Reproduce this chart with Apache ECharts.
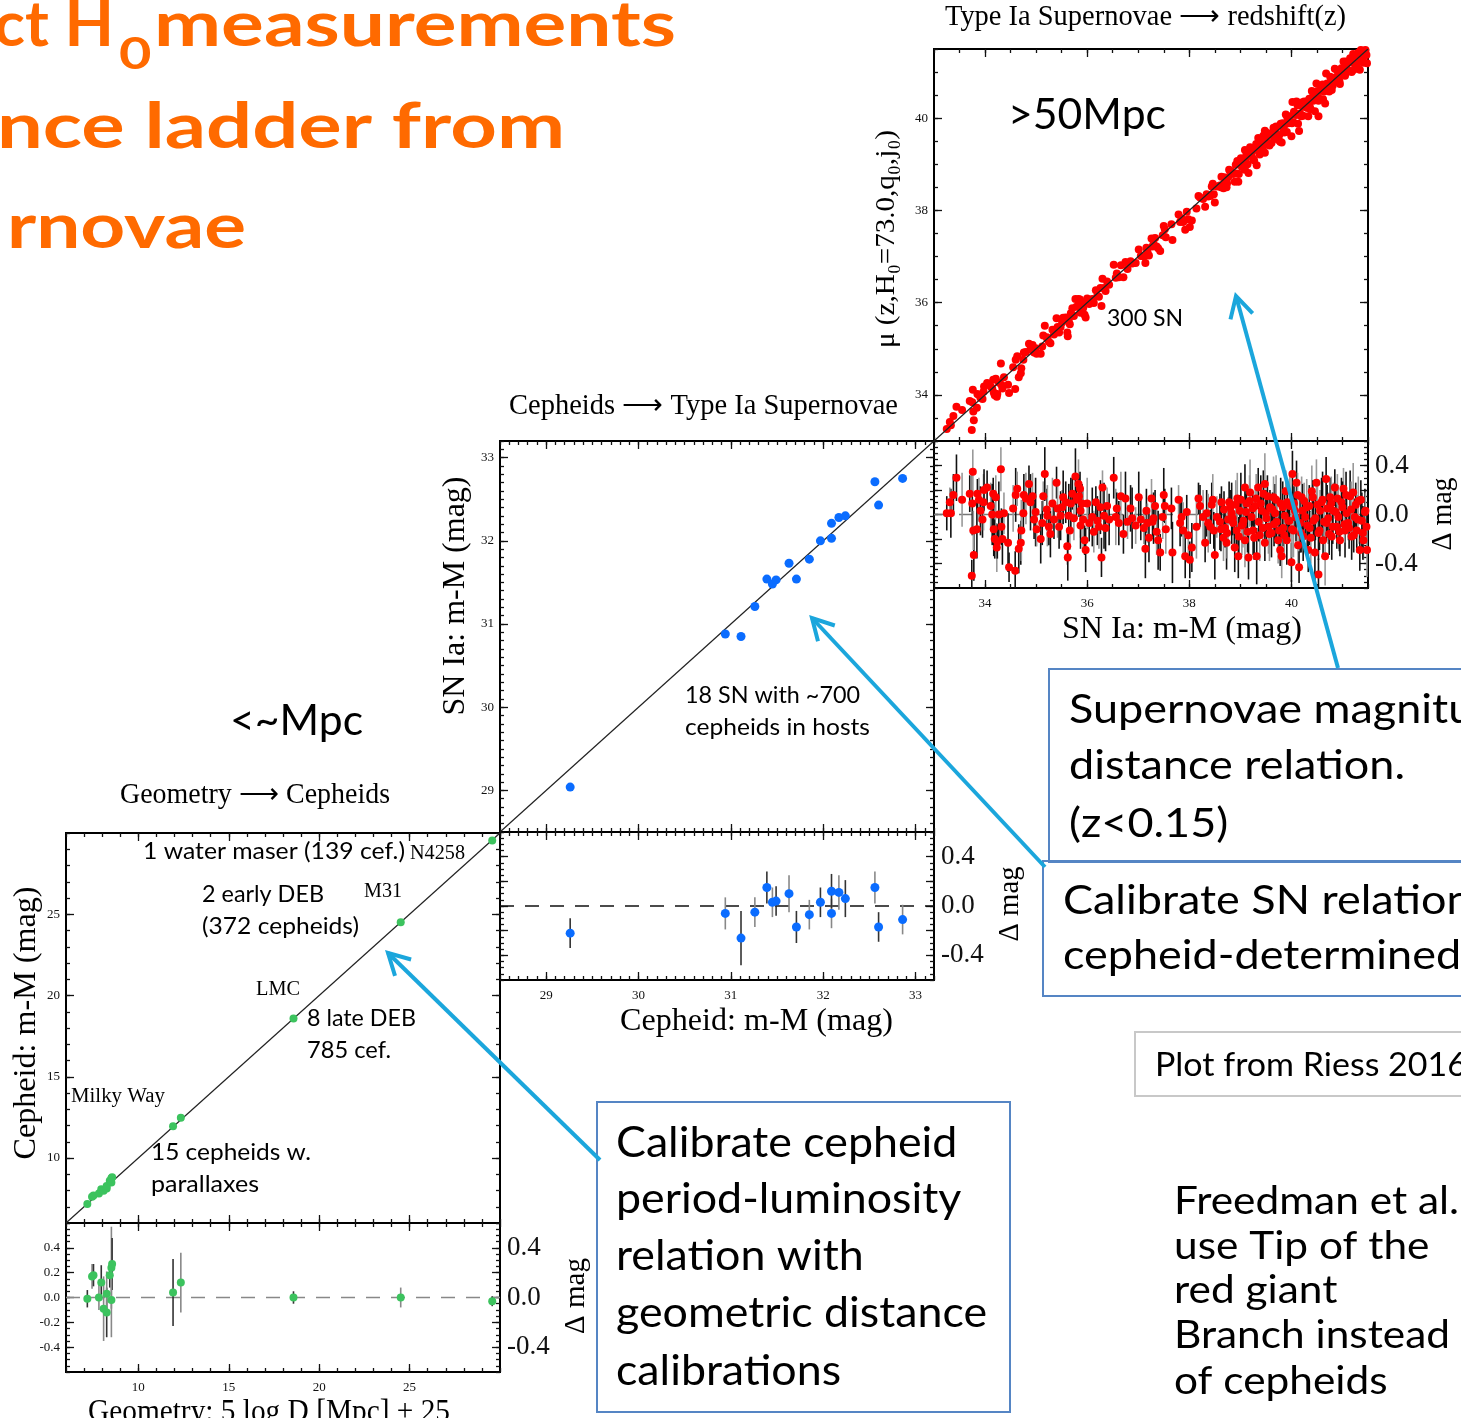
<!DOCTYPE html>
<html>
<head>
<meta charset="utf-8">
<title>Distance ladder</title>
<script src="https://cdn.jsdelivr.net/npm/echarts@6/dist/echarts.min.js"></script>
<style>
  html, body { margin: 0; padding: 0; background: #fff; overflow: hidden; }
  #chart { width: 1461px; height: 1418px; }
</style>
</head>
<body>
<div id="chart"></div>
<script>
// ---------- Rung 1: geometric distances vs Cepheid distances ----------
const geoMu    = [7.18, 7.44, 7.52, 7.82, 7.95, 8.08, 8.25, 8.25, 8.42, 8.51, 8.55, 8.51, 11.92, 12.35, 18.58, 24.51, 29.57];
const geoResid = [-0.01, 0.17, 0.18, 0.00, 0.12, -0.09, -0.12, 0.03, 0.18, 0.24, 0.27, -0.02, 0.04, 0.12, 0.00, 0.00, -0.03];
const geoErr   = [0.07, 0.10, 0.09, 0.10, 0.14, 0.26, 0.20, 0.18, 0.10, 0.33, 0.21, 0.30, 0.27, 0.24, 0.05, 0.08, 0.04];

// ---------- Rung 2: Cepheid distances vs SN Ia distances (18 hosts) ----------
const cephMu    = [29.26, 30.94, 31.11, 31.26, 31.39, 31.45, 31.49, 31.63, 31.71, 31.85, 31.97, 32.09, 32.09, 32.17, 32.24, 32.56, 32.60, 32.86];
const cephResid = [-0.22, -0.06, -0.26, -0.05, 0.15, 0.03, 0.04, 0.10, -0.17, -0.07, 0.03, -0.06, 0.12, 0.11, 0.06, 0.15, -0.17, -0.11];
const cephErr   = [0.12, 0.13, 0.22, 0.12, 0.13, 0.12, 0.12, 0.15, 0.13, 0.12, 0.12, 0.12, 0.14, 0.14, 0.15, 0.13, 0.12, 0.12];

// ---------- Rung 3: SN Ia distances vs redshift distances ----------
const snMu = [
  33.25,33.33,33.31,33.38,33.44,33.55,33.70,33.75,33.76,33.74,
  33.78,33.77,33.84,33.85,33.88,33.91,33.95,33.97,33.98,34.04,
  34.11,34.14,34.16,34.21,34.17,34.19,34.23,34.24,34.27,34.31,
  34.32,34.34,34.37,34.45,34.47,34.55,34.59,34.60,34.63,34.66,
  34.70,34.71,34.75,34.76,34.80,34.86,34.89,34.93,34.96,34.99,
  35.01,35.09,35.12,35.14,35.17,35.21,35.22,35.25,35.28,35.32,
  35.35,35.40,35.42,35.45,35.48,35.51,35.53,35.58,35.61,35.62,
  35.64,35.66,35.68,35.71,35.74,35.77,35.79,35.83,35.84,35.86,
  35.87,35.87,35.90,35.92,35.95,35.97,36.00,36.04,36.10,36.13,
  36.17,36.20,36.23,36.26,36.28,36.30,36.33,36.36,36.39,36.43,
  36.52,36.56,36.58,36.62,36.66,36.71,36.75,36.79,36.85,36.88,
  36.95,37.01,37.05,37.11,37.14,37.16,37.18,37.21,37.28,
  37.26,37.30,37.33,37.36,37.39,37.43,37.48,37.50,37.52,37.54,
  37.65,37.67,37.79,37.82,37.85,37.88,37.92,37.95,37.98,38.01,
  38.05,38.14,38.18,38.21,38.27,38.31,38.34,38.37,38.41,38.44,
  38.46,38.48,38.50,38.54,38.60,38.63,38.67,38.70,38.73,38.76,
  38.80,38.83,38.86,38.89,38.93,38.94,38.96,38.99,39.03,39.06,
  39.09,39.09,39.12,39.16,39.19,39.22,39.25,39.29,39.32,39.35,
  39.38,39.42,39.45,39.48,39.48,39.51,39.55,39.58,39.61,39.65,
  39.68,39.71,39.74,39.78,39.79,39.81,39.84,39.87,39.89,39.91,
  39.94,39.97,40.00,40.02,40.04,40.07,40.10,40.13,40.15,40.17,
  40.20,40.23,40.27,40.30,40.33,40.36,40.40,40.43,40.46,40.49,
  40.53,40.53,40.56,40.59,40.62,40.66,40.68,40.69,40.72,40.76,
  40.79,40.82,40.85,40.89,40.92,40.95,40.98,41.02,41.05,41.08,
  41.11,41.15,41.18,41.21,41.24,41.28,41.31,41.34,41.38,41.41,
  41.44,41.47,41.48,
  38.62,38.68,38.74,38.78,38.85,38.91,38.97,39.01,39.05,39.11,
  39.14,39.18,39.24,39.27,39.31,39.36,39.40,39.44,39.50,39.53,
  39.57,39.63,39.66,39.70,39.76,39.83,39.86,39.92,39.96,40.01,
  40.05,40.09,40.12,40.19,40.22,40.25,40.31,40.35,40.38,40.42,
  40.47,40.51,40.55,40.61,40.64,40.70,40.74,40.78,40.81,40.87,
  40.90,40.94,41.00,41.04,41.07,41.13,41.17,41.22,41.26,41.30,
  41.36,41.40,41.45
];
const snResid = [
  0.01,0.01,0.10,0.16,0.30,0.12,0.17,0.09,0.35,-0.50,
  -0.33,-0.13,-0.12,0.17,0.12,0.03,-0.04,0.10,0.20,0.22,
  0.07,0.00,0.17,0.14,-0.12,-0.20,-0.27,-0.22,0.00,0.37,
  -0.10,-0.20,0.01,-0.23,-0.43,0.05,-0.46,0.16,0.21,-0.28,
  -0.23,-0.13,0.01,0.16,0.13,0.25,0.10,0.15,-0.04,0.02,
  -0.12,-0.20,-0.07,0.15,0.33,0.04,-0.01,-0.10,-0.16,0.09,
  -0.04,0.26,0.05,-0.10,-0.01,0.06,0.14,0.10,-0.26,-0.35,
  -0.01,-0.13,0.09,0.17,-0.03,0.31,0.12,0.25,0.15,0.21,
  0.03,-0.09,0.09,-0.04,-0.21,-0.29,0.09,-0.07,-0.02,-0.14,
  0.10,-0.05,-0.10,0.06,-0.35,0.22,-0.01,-0.11,0.07,-0.04,
  0.30,-0.02,0.05,-0.07,0.15,-0.16,0.13,-0.06,0.05,-0.03,
  -0.09,0.14,-0.04,-0.11,-0.28,0.03,-0.07,-0.19,-0.06,
  0.13,-0.03,0.07,-0.14,-0.21,-0.31,-0.02,0.16,0.07,-0.12,
  0.05,-0.31,0.12,-0.07,-0.02,-0.13,-0.34,0.02,-0.17,-0.37,
  -0.27,-0.10,0.13,0.07,-0.02,-0.23,0.01,-0.07,-0.10,0.08,
  0.12,-0.13,-0.33,-0.02,-0.06,0.10,-0.19,-0.11,-0.23,-0.04,
  0.06,0.01,-0.07,-0.27,-0.13,0.13,-0.34,0.03,-0.09,-0.05,
  0.22,-0.21,0.09,-0.35,0.18,-0.02,-0.13,0.07,-0.34,0.22,
  -0.17,0.03,0.17,0.25,-0.23,-0.03,-0.10,0.06,-0.15,0.14,
  0.01,-0.06,-0.21,-0.29,0.09,-0.34,-0.11,-0.01,0.19,-0.21,
  -0.05,0.07,-0.39,0.33,-0.13,0.03,0.26,-0.25,-0.43,-0.07,
  0.14,-0.18,-0.02,0.06,-0.29,-0.11,0.19,-0.05,-0.31,0.26,
  -0.49,-0.15,0.03,0.10,-0.21,-0.34,0.29,-0.07,-0.03,0.14,
  -0.18,0.03,0.22,-0.10,-0.02,-0.21,0.10,0.21,-0.13,0.01,
  -0.07,0.15,-0.18,0.18,-0.02,-0.13,0.11,-0.29,-0.05,-0.21,
  0.02,-0.10,-0.29,
  -0.12,0.04,-0.15,0.10,-0.03,0.08,-0.18,0.12,-0.08,0.02,
  -0.14,0.11,0.05,-0.19,0.13,-0.06,0.09,-0.11,0.01,0.15,
  -0.16,0.04,-0.08,0.12,-0.13,0.06,-0.17,0.10,-0.05,-0.12,
  0.09,-0.02,0.16,-0.15,0.03,0.11,-0.09,0.07,-0.19,0.14,
  -0.03,0.08,-0.13,0.12,-0.06,0.05,-0.16,0.09,-0.10,0.02,
  0.13,-0.14,0.06,-0.08,0.16,-0.11,0.04,-0.17,0.08,-0.04,
  0.12,-0.15,0.03
];
const snErr = [
  0.14,0.20,0.12,0.17,0.19,0.22,0.15,0.26,0.18,0.13,
  0.21,0.16,0.24,0.12,0.18,0.20,0.15,0.23,0.17,0.14,
  0.19,0.25,0.13,0.18,0.22,0.16,0.20,0.14,0.27,0.18,
  0.15,0.21,0.17,0.24,0.12,0.19,0.16,0.22,0.14,0.20,
  0.18,0.25,0.13,0.17,0.21,0.15,0.23,0.19,0.16,0.28,
  0.14,0.20,0.18,0.12,0.22,0.17,0.25,0.15,0.19,0.21,
  0.16,0.13,0.24,0.18,0.20,0.14,0.22,0.17,0.15,0.19,
  0.26,0.16,0.21,0.13,0.18,0.23,0.15,0.20,0.17,0.14,
  0.22,0.19,0.16,0.25,0.12,0.18,0.21,0.15,0.24,0.17,
  0.13,0.20,0.18,0.22,0.16,0.14,0.27,0.19,0.15,0.21,
  0.17,0.23,0.13,0.18,0.20,0.16,0.22,0.14,0.19,0.25,
  0.15,0.21,0.17,0.13,0.24,0.18,0.16,0.20,0.14,
  0.16,0.21,0.13,0.19,0.24,0.15,0.18,0.22,0.14,0.20,
  0.17,0.25,0.12,0.19,0.16,0.23,0.18,0.14,0.21,0.15,
  0.20,0.26,0.13,0.17,0.22,0.16,0.19,0.24,0.14,0.18,
  0.21,0.15,0.20,0.17,0.23,0.13,0.19,0.16,0.22,0.18,
  0.14,0.25,0.17,0.20,0.15,0.21,0.18,0.13,0.24,0.16,
  0.19,0.22,0.15,0.18,0.27,0.14,0.20,0.17,0.23,0.16,
  0.21,0.13,0.19,0.25,0.15,0.18,0.22,0.14,0.20,0.17,
  0.24,0.16,0.19,0.13,0.21,0.18,0.15,0.23,0.17,0.20,
  0.14,0.26,0.16,0.19,0.22,0.15,0.18,0.21,0.13,0.24,
  0.17,0.20,0.15,0.23,0.18,0.14,0.21,0.16,0.25,0.19,
  0.13,0.22,0.17,0.20,0.15,0.24,0.18,0.14,0.21,0.16,
  0.19,0.23,0.15,0.18,0.26,0.13,0.20,0.17,0.22,0.16,
  0.14,0.21,0.19,0.24,0.15,0.18,0.20,0.17,0.23,0.16,
  0.19,0.14,0.22,
  0.18,0.15,0.21,0.17,0.14,0.20,0.16,0.22,0.19,0.15,
  0.17,0.21,0.14,0.18,0.20,0.16,0.23,0.15,0.19,0.17,
  0.22,0.14,0.18,0.20,0.16,0.21,0.15,0.19,0.17,0.23,
  0.14,0.20,0.18,0.16,0.22,0.15,0.19,0.17,0.21,0.14,
  0.18,0.20,0.16,0.23,0.15,0.19,0.17,0.22,0.14,0.18,
  0.20,0.16,0.21,0.15,0.19,0.17,0.23,0.14,0.18,0.20,
  0.16,0.22,0.15
];

// ---------- axis ranges and tick labels ----------
const geoRange   = [6, 30];
const cephRange  = [28.5, 33.2];
const snRange    = [33, 41.5];
const residRange = [-0.6, 0.6];

const geoTicks       = [10, 15, 20, 25];
const cephTicks      = [29, 30, 31, 32, 33];
const snTicks        = [34, 36, 38, 40];
const residTicks     = [-0.4, -0.2, 0, 0.2, 0.4];
const residSideTicks = [-0.4, 0, 0.4];

// ---------- styling ----------
const SERIF = '"Liberation Serif", "Times New Roman", serif';
const SANS  = 'Lato, "Noto Sans", sans-serif';
const CYAN  = '#1ba6dc';
const BOXBLUE = '#5585c4';
const ORANGE = '#ff6a00';
const ARROW = '\u27f6';

const measureCtx = document.createElement('canvas').getContext('2d');
function measure(str, font) { measureCtx.font = font; return measureCtx.measureText(str).width; }

function range(a, b, step) {
  const out = [];
  for (let v = a; v <= b + 1e-9; v += step) out.push(+v.toFixed(4));
  return out;
}

// Grid rectangles: main panels and their residual strips
const grids = [
  { left: 66,  top: 833, width: 434, height: 390 },  // 0 geometry -> Cepheids
  { left: 66,  top: 1223, width: 434, height: 149 }, // 1 residuals
  { left: 500, top: 441, width: 434, height: 391 },  // 2 Cepheids -> SN Ia
  { left: 500, top: 832, width: 434, height: 148 },  // 3 residuals
  { left: 934, top: 49,  width: 434, height: 392 },  // 4 SN Ia -> redshift
  { left: 934, top: 441, width: 434, height: 147 }   // 5 residuals
].map(g => Object.assign({ show: true, borderColor: '#000', borderWidth: 2, backgroundColor: 'transparent' }, g));

const xAxes = [], yAxes = [];

function oneAxis(gi, pos, rng, ticks, len, lab) {
  return {
    type: 'value', gridIndex: gi, position: pos, min: rng[0], max: rng[1],
    axisLine: { show: false, onZero: false }, splitLine: { show: false },
    axisTick: { show: true, inside: true, length: len, customValues: ticks, lineStyle: { color: '#111', width: 1.3 } },
    axisLabel: lab ? {
      show: true, customValues: lab.values, fontFamily: SERIF, fontSize: lab.size,
      color: '#111', margin: lab.margin, formatter: lab.fmt || (v => String(v))
    } : { show: false }
  };
}

// Each side gets a major-tick axis and a minor-tick axis.
function addAxes(list, gi, sides, rng, majors, minors, labA, labB) {
  list.push(oneAxis(gi, sides[0], rng, majors, 8, labA));
  list.push(oneAxis(gi, sides[0], rng, minors, 4, null));
  list.push(oneAxis(gi, sides[1], rng, majors, 8, labB));
  list.push(oneAxis(gi, sides[1], rng, minors, 4, null));
}

const fmt1 = v => v.toFixed(1);
const residMinors = range(-0.6, 0.6, 0.05);
const smallLab = (values, margin, f) => ({ values, size: 13, margin, fmt: f });
const sideLab = { values: residSideTicks, size: 27, margin: 7, fmt: fmt1 };

// grid 0 / 1
addAxes(xAxes, 0, ['bottom', 'top'], geoRange, geoTicks, range(6, 30, 1), null, null);
addAxes(yAxes, 0, ['left', 'right'], geoRange, geoTicks, range(6, 30, 1), smallLab(geoTicks, 6), null);
addAxes(xAxes, 1, ['bottom', 'top'], geoRange, geoTicks, range(6, 30, 1), smallLab(geoTicks, 9), null);
addAxes(yAxes, 1, ['left', 'right'], residRange, residTicks, residMinors, smallLab(residTicks, 6, fmt1), sideLab);
// grid 2 / 3
addAxes(xAxes, 2, ['bottom', 'top'], cephRange, cephTicks, range(28.5, 33.2, 0.1), null, null);
addAxes(yAxes, 2, ['left', 'right'], cephRange, cephTicks, range(28.5, 33.2, 0.1), smallLab(cephTicks, 6), null);
addAxes(xAxes, 3, ['bottom', 'top'], cephRange, cephTicks, range(28.5, 33.2, 0.1), smallLab(cephTicks, 9), null);
addAxes(yAxes, 3, ['left', 'right'], residRange, residTicks, residMinors, null, sideLab);
// grid 4 / 5
addAxes(xAxes, 4, ['bottom', 'top'], snRange, snTicks, range(33, 41.5, 0.5), null, null);
addAxes(yAxes, 4, ['left', 'right'], snRange, snTicks, range(33, 41.5, 0.5), smallLab(snTicks, 6), null);
addAxes(xAxes, 5, ['bottom', 'top'], snRange, snTicks, range(33, 41.5, 0.5), smallLab(snTicks, 9), null);
addAxes(yAxes, 5, ['left', 'right'], residRange, residTicks, residMinors, null, sideLab);

// ---------- series helpers ----------
const onDiag = (xs, rs) => xs.map((x, i) => [x, +(x + rs[i]).toFixed(3)]);
const asResid = (xs, rs) => xs.map((x, i) => [x, rs[i]]);
const errRows = (xs, rs, es) => xs.map((x, i) => [x, rs[i] - es[i], rs[i] + es[i], i]);

function scatter(gi, data, color, size) {
  return { type: 'scatter', xAxisIndex: 4 * gi, yAxisIndex: 4 * gi, data, symbolSize: size,
    itemStyle: { color, opacity: 1 }, z: 5, silent: true };
}
function diagonal(gi, rng) {
  return { type: 'line', xAxisIndex: 4 * gi, yAxisIndex: 4 * gi, data: [[rng[0], rng[0]], [rng[1], rng[1]]],
    symbol: 'none', lineStyle: { color: '#222', width: 1.2 }, z: 2, silent: true };
}
function zeroLine(gi, rng, color) {
  return { type: 'line', xAxisIndex: 4 * gi, yAxisIndex: 4 * gi, data: [[rng[0], 0], [rng[1], 0]],
    symbol: 'none', lineStyle: { color, width: 1.3, type: [14, 11] }, z: 2, silent: true };
}
function errBars(gi, rows, colors) {
  return {
    type: 'custom', xAxisIndex: 4 * gi, yAxisIndex: 4 * gi, data: rows, z: 3, silent: true,
    encode: { x: 0, y: [1, 2] },
    renderItem(params, api) {
      const cs = params.coordSys;
      const a = api.coord([api.value(0), api.value(1)]);
      const b = api.coord([api.value(0), api.value(2)]);
      const lo = cs.y, hi = cs.y + cs.height;
      const clamp = v => Math.max(lo, Math.min(hi, v));
      return { type: 'line', shape: { x1: a[0], y1: clamp(a[1]), x2: a[0], y2: clamp(b[1]) },
        style: { stroke: colors[api.value(3) % colors.length], lineWidth: 1.6 } };
    }
  };
}

const snDiag = diagonal(4, snRange);
snDiag.z = 6;

const series = [
  diagonal(0, geoRange),
  scatter(0, onDiag(geoMu, geoResid), '#3cc35e', 8),
  zeroLine(1, geoRange, '#888'),
  errBars(1, errRows(geoMu, geoResid, geoErr), ['#333', '#888']),
  scatter(1, asResid(geoMu, geoResid), '#3cc35e', 8),

  diagonal(2, cephRange),
  scatter(2, onDiag(cephMu, cephResid), '#0a6cff', 9),
  zeroLine(3, cephRange, '#111'),
  errBars(3, errRows(cephMu, cephResid, cephErr), ['#333', '#888']),
  scatter(3, asResid(cephMu, cephResid), '#0a6cff', 9),

  scatter(4, onDiag(snMu, snResid), '#ff0000', 8),
  snDiag,
  zeroLine(5, snRange, '#777'),
  errBars(5, errRows(snMu, snResid, snErr), ['#111', '#111', '#999']),
  scatter(5, asResid(snMu, snResid), '#ff0000', 8)
];

// ---------- annotation helpers ----------
function txt(str, x, baseline, size, fam, o = {}) {
  const font = `${o.weight || 'normal'} ${size}px ${fam}`;
  let sx = o.scale || 1;
  if (o.width) sx = o.width / measure(str, font);
  const k = fam === SERIF ? 0.338 : 0.387;
  return { type: 'text', x, y: baseline - k * size, scaleX: sx, z: 110, silent: true,
    style: { text: str, x: 0, y: 0, font, fill: o.color || '#000',
      textAlign: o.align || 'left', textVerticalAlign: 'middle' } };
}
function rtxt(str, cx, cy, size, fam, width) {
  const font = `normal ${size}px ${fam}`;
  return { type: 'text', x: cx, y: cy, rotation: Math.PI / 2, scaleX: width / measure(str, font), z: 110, silent: true,
    style: { text: str, x: 0, y: 0, font, fill: '#000', textAlign: 'center', textVerticalAlign: 'middle' } };
}
function fitScale(str, size, fam, width, weight) {
  return width / measure(str, `${weight || 'normal'} ${size}px ${fam}`);
}
function arrow(x1, y1, x2, y2) {
  const a = Math.atan2(y2 - y1, x2 - x1), L = 24, s = 0.5;
  const p1 = [x2 - L * Math.cos(a - s), y2 - L * Math.sin(a - s)];
  const p2 = [x2 - L * Math.cos(a + s), y2 - L * Math.sin(a + s)];
  return [
    { type: 'line', z: 120, silent: true, shape: { x1, y1, x2, y2 }, style: { stroke: CYAN, lineWidth: 4 } },
    { type: 'polyline', z: 120, silent: true, shape: { points: [p1, [x2, y2], p2] },
      style: { stroke: CYAN, lineWidth: 4, fill: 'none', lineJoin: 'miter' } }
  ];
}
function box(x, y, w, h, color) {
  return { type: 'rect', z: 105, silent: true, shape: { x, y, width: w, height: h },
    style: { stroke: color, lineWidth: 2, fill: 'none' } };
}

const titleScale = fitScale('measurements', 63, SANS, 522, 'bold');
const boxAScale  = fitScale('distance relation.', 40, SANS, 336);
const boxDScale  = fitScale('geometric distance', 42, SANS, 371);
const noteScale  = fitScale('Branch instead', 38, SANS, 276);
const heading = { weight: 'bold', color: ORANGE };

const graphics = [
  // heading
  txt('ct H', 114, 50, 63, SANS, Object.assign({ width: 120, align: 'right' }, heading)),
  txt('0', 119, 72, 44, SANS, Object.assign({ scale: titleScale }, heading)),
  txt('measurements', 154, 50, 63, SANS, Object.assign({ width: 522 }, heading)),
  txt('nce ladder from', 565, 152, 63, SANS, Object.assign({ width: 568, align: 'right' }, heading)),
  txt('rnovae', 246, 252, 63, SANS, Object.assign({ width: 239, align: 'right' }, heading)),

  // panel titles
  txt('Type Ia Supernovae ' + ARROW + ' redshift(z)', 945, 27, 29, SERIF, { width: 401 }),
  txt('Cepheids ' + ARROW + ' Type Ia Supernovae', 509, 416, 29, SERIF, { width: 389 }),
  txt('Geometry ' + ARROW + ' Cepheids', 120, 805, 29, SERIF, { width: 270 }),

  // axis titles
  txt('Cepheid: m-M (mag)', 620, 1032, 32, SERIF, { width: 273 }),
  txt('SN Ia: m-M (mag)', 1062, 640, 32, SERIF, { width: 240 }),
  txt('Geometry: 5 log D [Mpc] + 25', 88, 1423, 32, SERIF, { width: 362 }),
  rtxt('Cepheid: m-M (mag)', 27, 1023, 32, SERIF, 273),
  rtxt('SN Ia: m-M (mag)', 456, 596, 32, SERIF, 239),
  rtxt('\u03bc (z,H\u2080=73.0,q\u2080,j\u2080)', 887, 239, 28, SERIF, 218),
  rtxt('\u0394 mag', 1443, 514, 30, SERIF, 73),
  rtxt('\u0394 mag', 1010, 904, 30, SERIF, 75),
  rtxt('\u0394 mag', 576, 1296, 30, SERIF, 76),

  // anchor names
  txt('N4258', 410, 861, 20, SERIF, { width: 55 }),
  txt('M31', 364, 899, 20, SERIF, { width: 38 }),
  txt('LMC', 256, 997, 20, SERIF, { width: 44 }),
  txt('Milky Way', 71, 1104, 20, SERIF, { width: 94 }),

  // in-panel notes
  txt('1 water maser (139 cef.)', 143, 861, 24, SANS, { width: 262 }),
  txt('2 early DEB', 202, 904, 24, SANS, { width: 122 }),
  txt('(372 cepheids)', 202, 936, 24, SANS, { width: 157 }),
  txt('8 late DEB', 307, 1028, 24, SANS, { width: 109 }),
  txt('785 cef.', 307, 1060, 24, SANS, { width: 84 }),
  txt('15 cepheids w.', 151, 1162, 24, SANS, { width: 160 }),
  txt('parallaxes', 151, 1194, 24, SANS, { width: 108 }),
  txt('18 SN with ~700', 685, 705, 24, SANS, { width: 175 }),
  txt('cepheids in hosts', 685, 737, 24, SANS, { width: 185 }),
  txt('300 SN', 1107, 328, 24, SANS, { width: 76 }),
  txt('>50Mpc', 1008, 132, 42, SANS, { width: 158 }),
  txt('<~Mpc', 230, 738, 42, SANS, { width: 133 }),

  // explanation boxes
  box(1049, 669, 430, 193, BOXBLUE),
  txt('Supernovae magnitude', 1069, 726, 40, SANS, { scale: boxAScale }),
  txt('distance relation.', 1069, 782, 40, SANS, { scale: boxAScale }),
  txt('(z<0.15)', 1069, 840, 40, SANS, { scale: boxAScale }),

  box(1043, 861, 436, 135, BOXBLUE),
  txt('Calibrate SN relation', 1063, 917, 40, SANS, { scale: boxAScale }),
  txt('cepheid-determined', 1063, 972, 40, SANS, { scale: boxAScale }),

  box(1135, 1032, 344, 64, '#c8c8c8'),
  txt('Plot from Riess 2016', 1155, 1078, 32, SANS, { width: 312 }),

  box(597, 1102, 413, 310, BOXBLUE),
  txt('Calibrate cepheid', 616, 1160, 42, SANS, { scale: boxDScale }),
  txt('period-luminosity', 616, 1216, 42, SANS, { scale: boxDScale }),
  txt('relation with', 616, 1273, 42, SANS, { scale: boxDScale }),
  txt('geometric distance', 616, 1330, 42, SANS, { scale: boxDScale }),
  txt('calibrations', 616, 1388, 42, SANS, { scale: boxDScale }),

  txt('Freedman et al.', 1174, 1216, 38, SANS, { scale: noteScale }),
  txt('use Tip of the', 1174, 1261, 38, SANS, { scale: noteScale }),
  txt('red giant', 1174, 1305, 38, SANS, { scale: noteScale }),
  txt('Branch instead', 1174, 1350, 38, SANS, { scale: noteScale }),
  txt('of cepheids', 1174, 1396, 38, SANS, { scale: noteScale }),

  // pointers
  ...arrow(1338, 668, 1236, 296),
  ...arrow(1045, 867, 812, 618),
  ...arrow(600, 1160, 388, 953)
];

const chart = echarts.init(document.getElementById('chart'), null, { renderer: 'canvas' });
chart.setOption({
  animation: false,
  backgroundColor: '#fff',
  grid: grids,
  xAxis: xAxes,
  yAxis: yAxes,
  series,
  graphic: { elements: graphics }
});
</script>
</body>
</html>
